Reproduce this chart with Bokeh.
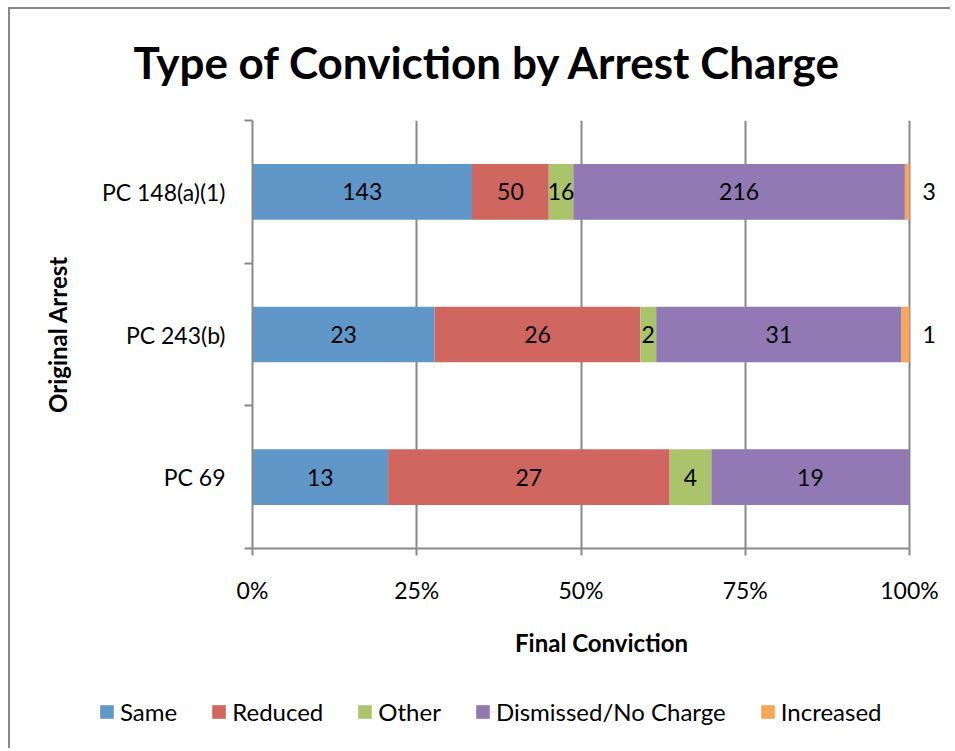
from bokeh.plotting import figure
from bokeh.layouts import column
from bokeh.core.properties import value
from bokeh.models import (ColumnDataSource, FixedTicker, NumeralTickFormatter, LabelSet,
                          Legend, LegendItem, Range1d)
from bokeh.embed import file_html
from bokeh.resources import INLINE

categories = ["PC 69", "PC 243(b)", "PC 148(a)(1)"]
series = ["Same", "Reduced", "Other", "Dismissed/No Charge", "Increased"]
same = [13, 23, 143]
reduced = [27, 26, 50]
other = [4, 2, 16]
dismissed = [19, 31, 216]
increased = [0, 1, 3]
colors = ["#5F97C9", "#CF665F", "#AAC46B", "#917AB3", "#F9A65A"]
x_ticks = [0, 0.25, 0.5, 0.75, 1.0]

FONT = "Lato"
GRAY = "#898989"

counts = [same, reduced, other, dismissed, increased]
ypos = [i + 1 for i in range(len(categories))]
totals = [sum(c[i] for c in counts) for i in range(len(categories))]

data = {"y": ypos}
for name, vals in zip(series, counts):
    data[name] = [v / t for v, t in zip(vals, totals)]
source = ColumnDataSource(data)

p = figure(width=950, height=678, x_range=Range1d(0, 1.0624), y_range=Range1d(0.5, len(categories) + 0.5),
           output_backend="svg", toolbar_location=None,
           min_border_left=252, min_border_right=0, min_border_top=118, min_border_bottom=130)
p.border_fill_color = None
p.frame_align = False

renderers = p.hbar_stack(series, y="y", height=0.39, color=colors, source=source, line_color=None)

# segment labels
lx, ly, lt = [], [], []
ox, oy, ot = [], [], []
for i in range(len(categories)):
    cum = 0.0
    for j, name in enumerate(series):
        frac = counts[j][i] / totals[i]
        v = counts[j][i]
        if v > 0:
            if name == "Increased":
                ox.append(cum + frac); oy.append(ypos[i]); ot.append(str(v))
            else:
                lx.append(cum + frac / 2); ly.append(ypos[i]); lt.append(str(v))
        cum += frac

p.add_layout(LabelSet(x="x", y="y", text="t", source=ColumnDataSource(dict(x=lx, y=ly, t=lt)),
                      text_align="center", text_baseline="middle", text_font=value(FONT),
                      text_font_size="23px", text_color="black"))
p.add_layout(LabelSet(x="x", y="y", text="t", source=ColumnDataSource(dict(x=ox, y=oy, t=ot)),
                      x_offset=13, text_align="left", text_baseline="middle", text_font=value(FONT),
                      text_font_size="23px", text_color="black"))

# title
p.title.text = "Type of Conviction by Arrest Charge"
p.title.align = "left"
p.title.offset = -119
p.title.text_font = FONT
p.title.text_font_size = "44px"
p.title.text_font_style = "bold"
p.title.text_color = "black"
p.title.standoff = 66

# x axis
xa = p.xaxis[0]
xa.bounds = (0, 1)
xa.ticker = FixedTicker(ticks=x_ticks)
xa.formatter = NumeralTickFormatter(format="0%")
xa.axis_line_color = GRAY
xa.axis_line_width = 2
xa.major_tick_line_color = GRAY
xa.major_tick_line_width = 2
xa.major_tick_out = 7
xa.major_tick_in = 0
xa.minor_tick_line_color = None
xa.major_label_standoff = 20
xa.major_label_text_font = FONT
xa.major_label_text_font_size = "23px"
xa.major_label_text_color = "black"
xa.axis_label = "Final Conviction"
xa.axis_label_text_font = FONT
xa.axis_label_text_font_size = "24px"
xa.axis_label_text_font_style = "bold"
xa.axis_label_text_color = "black"
xa.axis_label_standoff = 21

# y axis
ya = p.yaxis[0]
ya.ticker = FixedTicker(ticks=ypos, minor_ticks=[0.5 + i for i in range(len(categories) + 1)])
ya.major_label_overrides = {y: c for y, c in zip(ypos, categories)}
ya.axis_line_color = GRAY
ya.axis_line_width = 2
ya.major_tick_line_color = None
ya.major_tick_out = 0
ya.major_tick_in = 0
ya.minor_tick_line_color = GRAY
ya.minor_tick_line_width = 2
ya.minor_tick_out = 8
ya.minor_tick_in = 0
ya.major_label_standoff = 19
ya.major_label_text_font = FONT
ya.major_label_text_font_size = "23px"
ya.major_label_text_color = "black"
ya.axis_label = "Original Arrest"
ya.axis_label_text_font = FONT
ya.axis_label_text_font_size = "24px"
ya.axis_label_text_font_style = "bold"
ya.axis_label_text_color = "black"
ya.axis_label_standoff = 27

p.xgrid.ticker = FixedTicker(ticks=x_ticks)
p.xgrid.grid_line_color = GRAY
p.xgrid.grid_line_width = 2
p.ygrid.visible = False
p.outline_line_color = None

# legend strip below the chart (its swatch glyphs sit outside the visible range)
lg = figure(width=950, height=70, output_backend="svg", toolbar_location=None,
            x_range=Range1d(0, 1), y_range=Range1d(0, 1),
            min_border_left=0, min_border_right=0, min_border_top=0, min_border_bottom=0)
lg.frame_align = False
lg.axis.visible = False
lg.grid.visible = False
lg.outline_line_color = None
lg.border_fill_color = None
lg.background_fill_color = None
leg_src = ColumnDataSource(dict(left=[5], right=[6], top=[6], bottom=[5]))
leg_renderers = [lg.quad(left="left", right="right", top="top", bottom="bottom",
                         fill_color=c, line_color=None, source=leg_src) for c in colors]
legend = Legend(items=[LegendItem(label=n, renderers=[r]) for n, r in zip(series, leg_renderers)],
                orientation="horizontal", location=(98, 22),
                label_text_font=FONT, label_text_font_size="24px", label_text_color="black",
                glyph_width=17, glyph_height=17, label_standoff=5, spacing=33,
                border_line_color=None, background_fill_alpha=0, margin=0, padding=0)
lg.add_layout(legend, "center")

layout = column(p, lg, spacing=0)
layout.styles = {"background-image": "linear-gradient(#888888,#888888), linear-gradient(#888888,#888888)",
                 "background-position": "8px 7px, 8px 7px",
                 "background-size": "2px 100%, 100% 2px",
                 "background-repeat": "no-repeat, no-repeat"}

open("out.html", "w").write(file_html(layout, INLINE))
